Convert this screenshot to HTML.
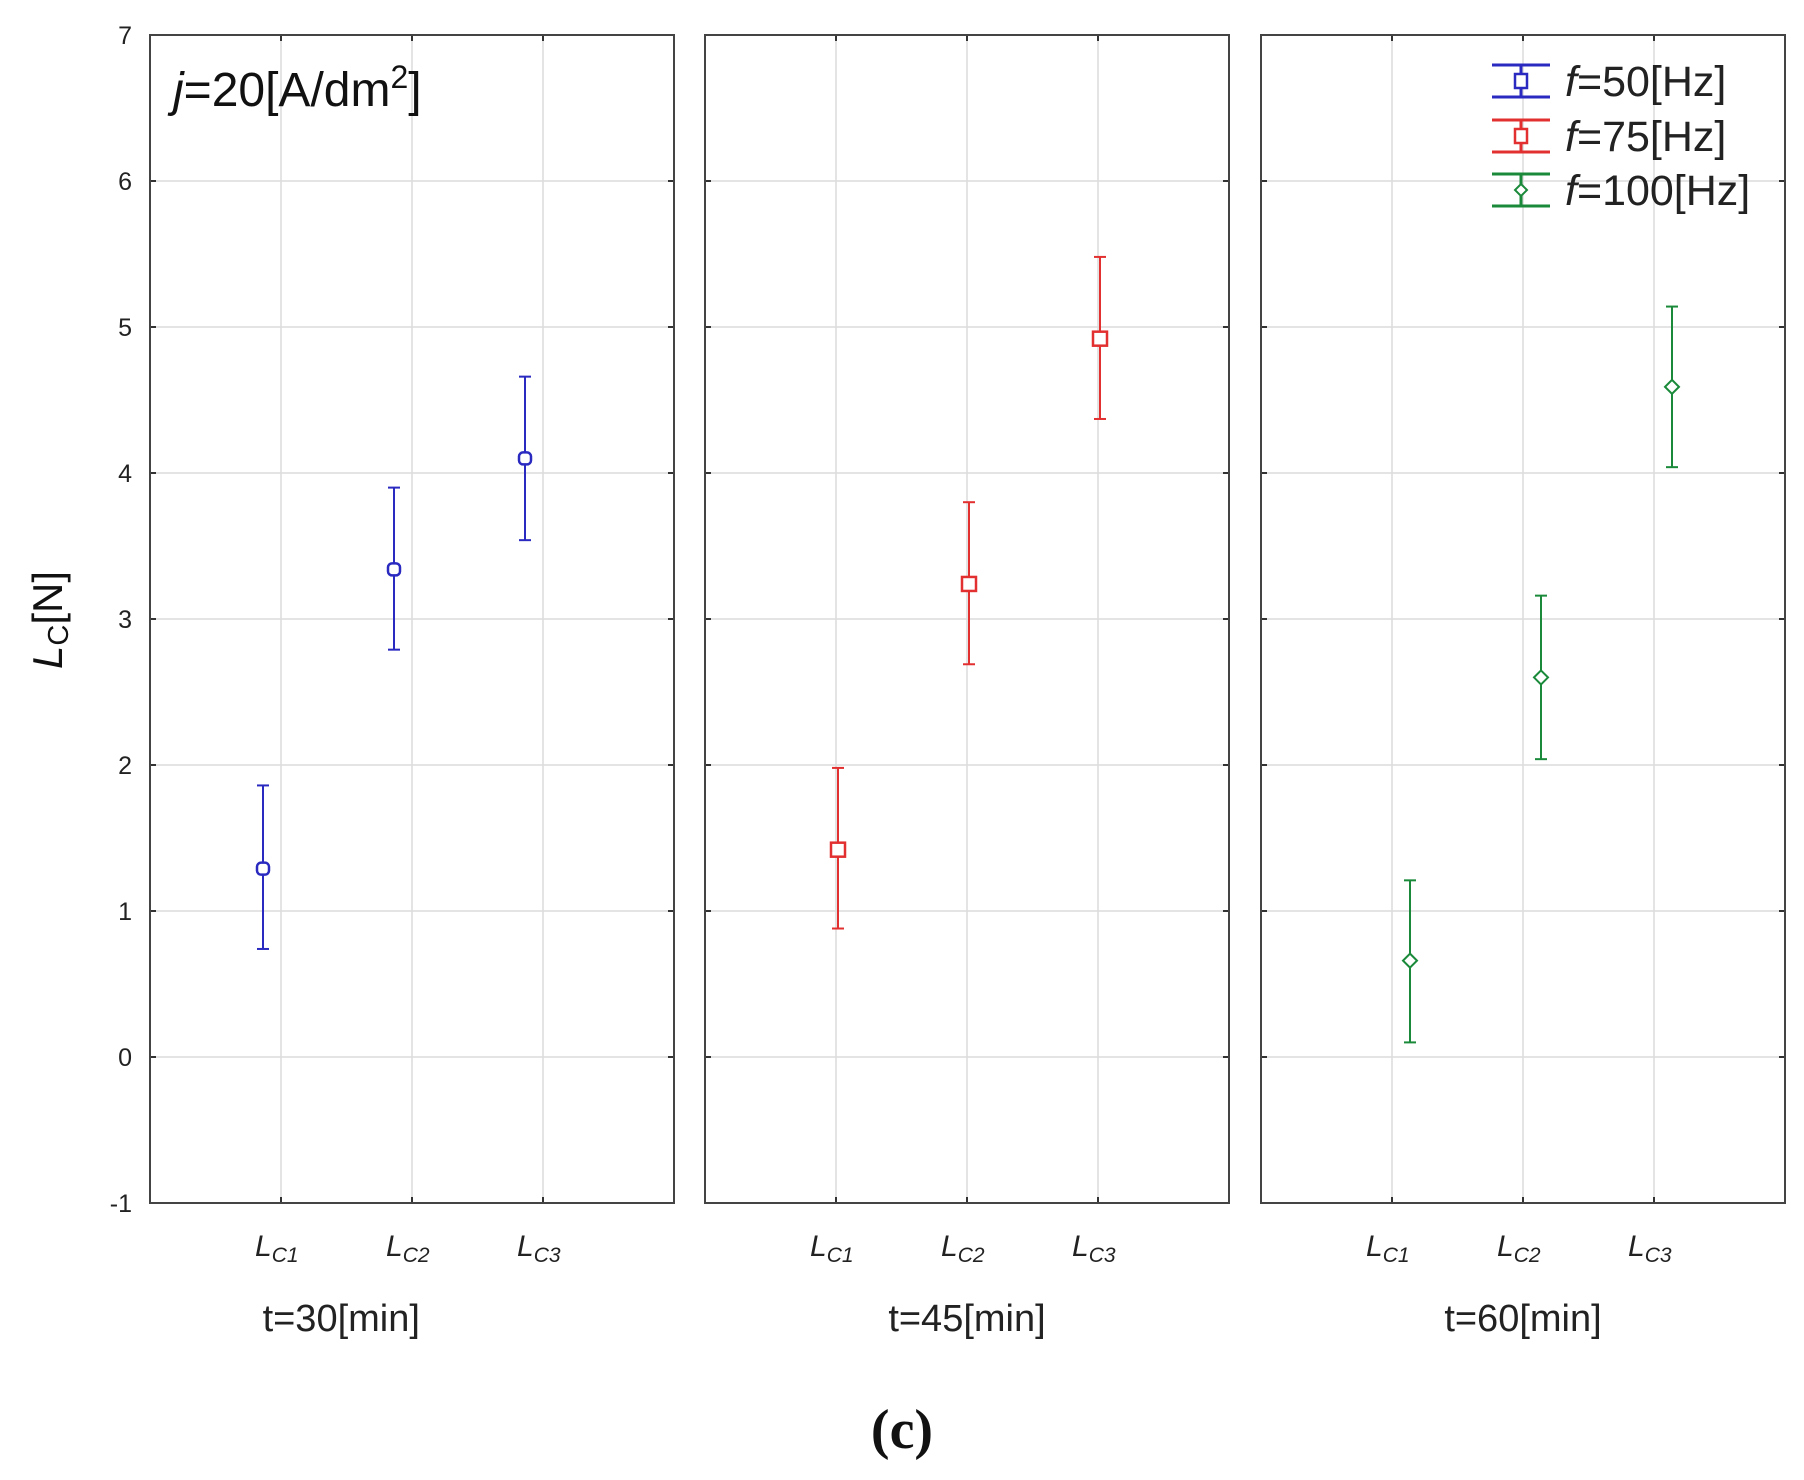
<!DOCTYPE html>
<html><head><meta charset="utf-8"><style>
html,body{margin:0;padding:0;background:#fff;}
svg{display:block;font-family:"Liberation Sans",sans-serif;}
</style></head><body>
<svg id="chart" width="1804" height="1480" viewBox="0 0 1804 1480" xmlns="http://www.w3.org/2000/svg">
<g id="root"></g>
</svg>
<script>
const panelTitles = ["t=30[min]", "t=45[min]", "t=60[min]"];
const categories = ["1", "2", "3"];
const yTicks = [-1, 0, 1, 2, 3, 4, 5, 6, 7];
const seriesNames = ["f=50[Hz]", "f=75[Hz]", "f=100[Hz]"];
const means50 = [1.29, 3.34, 4.10];
const lower50 = [0.74, 2.79, 3.54];
const upper50 = [1.86, 3.90, 4.66];
const means75 = [1.42, 3.24, 4.92];
const lower75 = [0.88, 2.69, 4.37];
const upper75 = [1.98, 3.80, 5.48];
const means100 = [0.66, 2.60, 4.59];
const lower100 = [0.10, 2.04, 4.04];
const upper100 = [1.21, 3.16, 5.14];

const NS = "http://www.w3.org/2000/svg";
const rootG = document.getElementById("root");
function mk(tag, attrs, parent) {
  const e = document.createElementNS(NS, tag);
  for (const k in attrs) e.setAttribute(k, attrs[k]);
  (parent || rootG).appendChild(e);
  return e;
}
const panelX = [150, 705, 1261];
const panelW = 524;
const titleFrac = [0.365, 0.5, 0.5];
const plotTop = 35, plotBottom = 1203;
const yMin = -1, yMax = 7;
function yS(v) { return plotBottom - (v - yMin) / (yMax - yMin) * (plotBottom - plotTop); }
function xS(p, i) { return panelX[p] + panelW * (i + 1) / 4; }

const colors = ["#2a2ac0", "#e23030", "#1a8a3a"];
const offsets = [-18, 2, 18];
const seriesData = [[means50, lower50, upper50], [means75, lower75, upper75], [means100, lower100, upper100]];
const markers = ["circle", "square", "diamond"];

for (let p = 0; p < 3; p++) {
  const g = mk("g", {});
  
  
  const px = panelX[p];
  yTicks.forEach(t => {
    const l = mk("line", {x1: px, x2: px + panelW, y1: yS(t), y2: yS(t), stroke: "#dcdcdc", "stroke-width": 1.5}, g);
    
    
    mk("line", {x1: px, x2: px + 6, y1: yS(t), y2: yS(t), stroke: "#333", "stroke-width": 2}, g);
    mk("line", {x1: px + panelW - 6, x2: px + panelW, y1: yS(t), y2: yS(t), stroke: "#333", "stroke-width": 2}, g);
  });
  categories.forEach((c, i) => {
    const l = mk("line", {x1: xS(p, i), x2: xS(p, i), y1: plotTop, y2: plotBottom, stroke: "#dcdcdc", "stroke-width": 1.5}, g);
    
    
    mk("line", {x1: xS(p, i), x2: xS(p, i), y1: plotBottom - 6, y2: plotBottom, stroke: "#333", "stroke-width": 2}, g);
    mk("line", {x1: xS(p, i), x2: xS(p, i), y1: plotTop, y2: plotTop + 6, stroke: "#333", "stroke-width": 2}, g);
    const t = mk("text", {x: xS(p, i) - 26, y: 1256, "font-size": 30, "font-style": "italic", fill: "#222"}, g);
    
    
    t.innerHTML = 'L<tspan font-size="21" dy="6">C' + c + '</tspan>';
  });
  const fr = mk("rect", {x: px, y: plotTop, width: panelW, height: plotBottom - plotTop, fill: "none", stroke: "#444", "stroke-width": 2}, g);
  
  
  const tt = mk("text", {x: px + panelW * titleFrac[p], y: 1331, "font-size": 38, fill: "#222", "text-anchor": "middle"}, g);
  
  
  tt.textContent = panelTitles[p];
  const [m, lo, hi] = seriesData[p];
  const col = colors[p];
  m.forEach((v, i) => {
    const cx = xS(p, i) + offsets[p];
    const eb = mk("g", {stroke: col, "stroke-width": 2, fill: "none"}, g);
    
    
    mk("line", {x1: cx, x2: cx, y1: yS(lo[i]), y2: yS(hi[i])}, eb);
    mk("line", {x1: cx - 6, x2: cx + 6, y1: yS(lo[i]), y2: yS(lo[i])}, eb);
    mk("line", {x1: cx - 6, x2: cx + 6, y1: yS(hi[i]), y2: yS(hi[i])}, eb);
    let mkEl;
    const cy = yS(v);
    if (markers[p] === "circle") mkEl = mk("rect", {x: cx - 6, y: cy - 6, width: 12, height: 12, rx: 4, fill: "#fff", stroke: col, "stroke-width": 2.5}, g);
    else if (markers[p] === "square") mkEl = mk("rect", {x: cx - 7, y: cy - 7, width: 14, height: 14, fill: "#fff", stroke: col, "stroke-width": 2.5}, g);
    else mkEl = mk("polygon", {points: `${cx},${cy-7} ${cx+7},${cy} ${cx},${cy+7} ${cx-7},${cy}`, fill: "#fff", stroke: col, "stroke-width": 2}, g);
    
    
  });
}
yTicks.forEach(t => {
  const e = mk("text", {x: 132, y: yS(t) + 9, "font-size": 25, fill: "#222", "text-anchor": "end"});
  
  
  e.textContent = t;
});
const yl = mk("text", {transform: "translate(62,620) rotate(-90)", "font-size": 42, fill: "#111", "text-anchor": "middle"});


yl.innerHTML = '<tspan font-style="italic">L</tspan><tspan font-size="29" dy="6">C</tspan><tspan dy="-6">[N]</tspan>';
const jl = mk("text", {x: 173, y: 106, "font-size": 48, fill: "#111"});


jl.innerHTML = '<tspan font-style="italic">j</tspan>=20[A/dm<tspan font-size="32" dy="-18">2</tspan><tspan dy="18">]</tspan>';
const legY = [81, 136, 190];
seriesNames.forEach((n, i) => {
  const g = mk("g", {});
  
  
  const col = colors[i], cx = 1521, cy = legY[i];
  mk("line", {x1: 1492, x2: 1550, y1: cy - 16, y2: cy - 16, stroke: col, "stroke-width": 3}, g);
  mk("line", {x1: 1492, x2: 1550, y1: cy + 16, y2: cy + 16, stroke: col, "stroke-width": 3}, g);
  mk("line", {x1: cx, x2: cx, y1: cy - 16, y2: cy + 16, stroke: col, "stroke-width": 3}, g);
  if (i === 2) mk("polygon", {points: `${cx},${cy-6} ${cx+6},${cy} ${cx},${cy+6} ${cx-6},${cy}`, fill: "#fff", stroke: col, "stroke-width": 2}, g);
  else mk("rect", {x: cx - 6, y: cy - 7, width: 12, height: 14, fill: "#fff", stroke: col, "stroke-width": 2.5}, g);
  const t = mk("text", {x: 1565, y: cy + 15, "font-size": 43, fill: "#222"}, g);
  t.innerHTML = '<tspan font-style="italic">f</tspan>' + n.slice(1);
});
const cl = mk("text", {x: 902, y: 1448, "font-size": 56, "font-weight": "bold", "font-family": "Liberation Serif, serif", fill: "#111", "text-anchor": "middle"});


cl.textContent = "(c)";
</script>
</body></html>
